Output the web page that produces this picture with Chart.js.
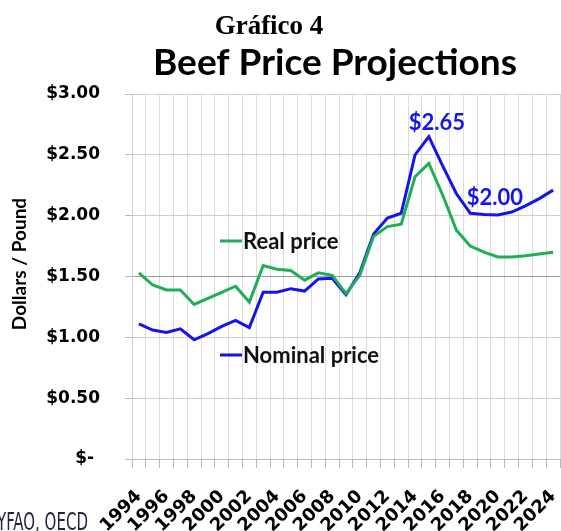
<!DOCTYPE html>
<html>
<head>
<meta charset="utf-8">
<script src="https://cdn.jsdelivr.net/npm/chart.js@4"></script>
<style>
  html, body { margin: 0; padding: 0; background: #fff; }
  #c { display: block; }
</style>
</head>
<body>
<canvas id="c" width="561" height="531"></canvas>
<script>
const years = ['1994','1995','1996','1997','1998','1999','2000','2001','2002','2003','2004','2005','2006','2007','2008','2009','2010','2011','2012','2013','2014','2015','2016','2017','2018','2019','2020','2021','2022','2023','2024'];
const realPrice = [1.53,1.43,1.39,1.39,1.27,1.32,1.37,1.42,1.29,1.59,1.56,1.55,1.47,1.53,1.51,1.36,1.51,1.83,1.91,1.93,2.32,2.43,2.17,1.88,1.75,1.70,1.66,1.66,1.67,1.685,1.70];
const nominalPrice = [1.11,1.06,1.04,1.07,0.98,1.03,1.09,1.14,1.08,1.37,1.37,1.40,1.38,1.48,1.485,1.35,1.53,1.85,1.98,2.02,2.50,2.65,2.41,2.18,2.02,2.01,2.005,2.03,2.08,2.14,2.21];
const yTicks = [0, 0.5, 1, 1.5, 2, 2.5, 3];
const seriesNames = ['Real price', 'Nominal price'];
const callouts = [{ index: 21, value: 2.65, text: '$2.65' }, { index: 26, value: 2.00, text: '$2.00' }];

const GREEN = '#1fae55';
const BLUE = '#1414ee';

const overlay = {
  id: 'overlay',
  afterDraw(chart) {
    const ctx = chart.ctx;
    const a = chart.chartArea;
    const xs = chart.scales.x, ys = chart.scales.y;
    ctx.save();
    // Titles
    ctx.fillStyle = '#000';
    ctx.textAlign = 'center';
    ctx.textBaseline = 'alphabetic';
    ctx.font = 'bold 27px "Liberation Serif", "Times New Roman", serif';
    ctx.fillText('Gráfico 4', 269, 34);
    ctx.font = 'bold 37px Lato, sans-serif';
    ctx.fillText('Beef Price Projections', 335, 75);
    // Y axis title
    ctx.save();
    ctx.translate(20, 264);
    ctx.rotate(-Math.PI / 2);
    ctx.font = 'bold 19px Lato, sans-serif';
    ctx.textBaseline = 'middle';
    ctx.fillText('Dollars / Pound', 0, 0);
    ctx.restore();
    // Inline legend
    ctx.textAlign = 'left';
    ctx.font = 'bold 22px Lato, sans-serif';
    const leg = [{ name: seriesNames[0], color: GREEN, y: 241 }, { name: seriesNames[1], color: BLUE, y: 355 }];
    leg.forEach(l => {
      ctx.strokeStyle = l.color;
      ctx.lineWidth = 3;
      ctx.beginPath();
      ctx.moveTo(a.left + 88, l.y);
      ctx.lineTo(a.left + 110, l.y);
      ctx.stroke();
      ctx.fillStyle = '#111';
      ctx.textBaseline = 'middle';
      ctx.fillText(l.name, a.left + 111, l.y + 1);
    });
    // Callouts
    ctx.fillStyle = BLUE;
    ctx.textAlign = 'center';
    ctx.textBaseline = 'alphabetic';
    ctx.font = 'bold 22px Lato, sans-serif';
    const offs = [[8, -7], [-3, -11]];
    callouts.forEach((c, i) => {
      const x = xs.getPixelForValue(c.index) + offs[i][0];
      const y = ys.getPixelForValue(c.value) + offs[i][1];
      ctx.fillText(c.text, x, y);
    });
    // Source text (cut off on left)
    ctx.save();
    ctx.font = '25px "Liberation Sans Narrow", "DejaVu Sans Condensed", sans-serif';
    const w = ctx.measureText('YFAO, OECD').width;
    ctx.translate(-3, 530);
    ctx.scale(91 / w, 1);
    ctx.fillStyle = '#23233f';
    ctx.textAlign = 'left';
    ctx.textBaseline = 'alphabetic';
    ctx.fillText('YFAO, OECD', 0, 0);
    ctx.restore();
    ctx.restore();
  }
};

new Chart(document.getElementById('c'), {
  type: 'line',
  data: {
    labels: years,
    datasets: [
      { label: seriesNames[0], data: realPrice, borderColor: GREEN, borderWidth: 3, pointRadius: 0, tension: 0, fill: false },
      { label: seriesNames[1], data: nominalPrice, borderColor: BLUE, borderWidth: 3, pointRadius: 0, tension: 0, fill: false }
    ]
  },
  options: {
    responsive: false,
    animation: false,
    devicePixelRatio: 1,
    layout: { padding: { top: 94, right: 1, left: 0, bottom: 0 } },
    plugins: { legend: { display: false }, tooltip: { enabled: false } },
    scales: {
      x: {
        offset: true,
        grid: { offset: true, color: '#dcdcdc', tickColor: '#b8b8b8', tickLength: 9, lineWidth: 1 },
        border: { color: '#bdbdbd' },
        ticks: {
          autoSkip: false, minRotation: 45, maxRotation: 45, padding: 18,
          color: '#000',
          font: { family: '"DejaVu Sans", sans-serif', weight: 'bold', size: 18 },
          callback: function (v, i) { return (Number(years[i]) % 2 === 0) ? years[i] : ''; }
        },
        afterFit: s => { s.height = 72; s.paddingLeft = 0; s.paddingRight = 0; }
      },
      y: {
        min: 0, max: 3,
        afterBuildTicks: s => { s.ticks = yTicks.map(v => ({ value: v })); },
        grid: {
          color: c => (c.tick && c.tick.value === 1.5) ? '#9c9c9c' : '#cdcdcd',
          tickColor: '#bdbdbd', tickLength: 7
        },
        border: { color: '#cdcdcd' },
        ticks: {
          padding: 25, color: '#000',
          font: { family: '"DejaVu Sans", sans-serif', weight: 'bold', size: 17 },
          callback: v => v === 0 ? '$- ' : '$' + Number(v).toFixed(2)
        },
        afterFit: s => { s.width = 132; s.paddingTop = 0; s.paddingBottom = 0; }
      }
    }
  },
  plugins: [overlay]
});
</script>
</body>
</html>
